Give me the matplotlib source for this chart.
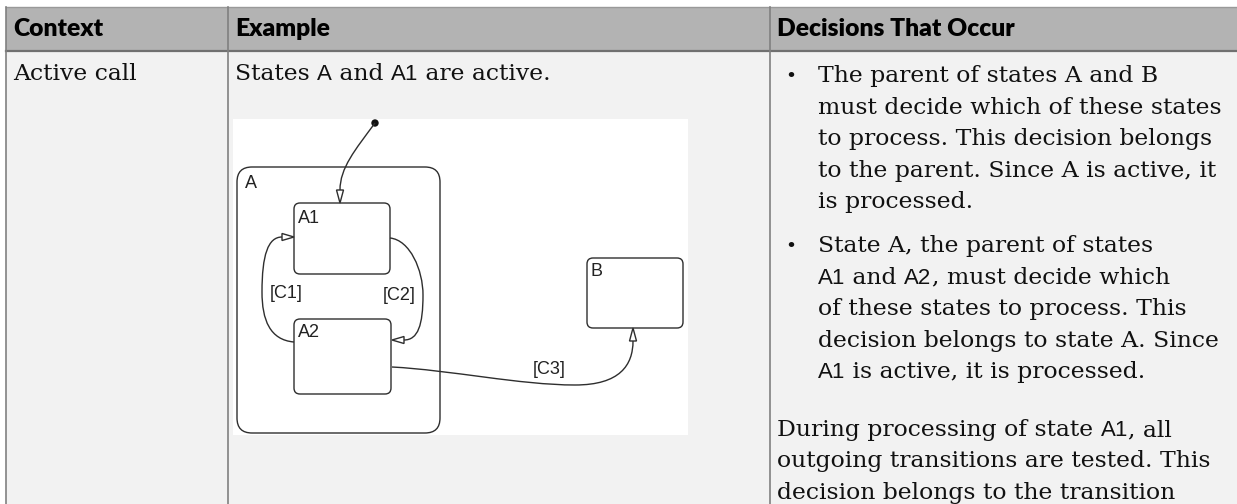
import matplotlib
matplotlib.use('Agg')
import matplotlib.pyplot as plt
from matplotlib.patches import FancyBboxPatch, Rectangle, Polygon, Circle, PathPatch
from matplotlib.path import Path

# table contents
headers = ['Context', 'Example', 'Decisions That Occur']
context_text = 'Active call'
example_runs = [('States ', 's'), ('A', 'h'), (' and ', 's'), ('A1', 'h'), (' are active.', 's')]

# 's' = serif body text, 'h' = sans (state names)
bullet_one = [
    [('The parent of states A and B', 's')],
    [('must decide which of these states', 's')],
    [('to process. This decision belongs', 's')],
    [('to the parent. Since A is active, it', 's')],
    [('is processed.', 's')],
]
bullet_two = [
    [('State A, the parent of states', 's')],
    [('A1', 'h'), (' and ', 's'), ('A2', 'h'), (', must decide which', 's')],
    [('of these states to process. This', 's')],
    [('decision belongs to state A. Since', 's')],
    [('A1', 'h'), (' is active, it is processed.', 's')],
]
paragraph = [
    [('During processing of state ', 's'), ('A1', 'h'), (', all', 's')],
    [('outgoing transitions are tested. This', 's')],
    [('decision belongs to the transition', 's')],
]

# stateflow diagram contents
state_names = ['A', 'A1', 'A2', 'B']
transition_labels = ['[C1]', '[C2]', '[C3]']

W, H = 1237, 504
SERIF = 'DejaVu Serif'
SANS = 'Liberation Sans'
HEAD = 'Lato'
INK = '#111111'
LINE = '#2e2e2e'

fig = plt.figure(figsize=(W / 100, H / 100), dpi=100)
ax = fig.add_axes([0, 0, 1, 1])
ax.set_xlim(0, W)
ax.set_ylim(H, 0)
ax.axis('off')
renderer = fig.canvas.get_renderer()


def text_w(s, **kw):
    t = ax.text(0, 0, '|' + s + '|', **kw)
    w = t.get_window_extent(renderer).width
    t.remove()
    t = ax.text(0, 0, '||', **kw)
    w -= t.get_window_extent(renderer).width
    t.remove()
    return w


body_size = 10 * 434 / text_w('outgoing transitions are tested. This', family=SERIF, fontsize=10)
head_size = 10 * 235 / text_w('Decisions That Occur', family=HEAD, weight='bold', fontsize=10)
sans_size = 16


def style(kind):
    if kind == 'h':
        return dict(family=SANS, fontsize=sans_size)
    return dict(family=SERIF, fontsize=body_size)


def draw_runs(x, y, runs):
    for s, kind in runs:
        kw = style(kind)
        ax.text(x, y, s, va='baseline', ha='left', color=INK, **kw)
        x += text_w(s, **kw)


# table background and rules
ax.add_patch(Rectangle((6, 7), W - 6, 44, facecolor='#b3b3b3', edgecolor='none'))
ax.add_patch(Rectangle((6, 51), W - 6, H - 51, facecolor='#f2f2f2', edgecolor='none'))
ax.plot([6, W], [7, 7], color='#999999', lw=1)
ax.plot([6, W], [51, 51], color='#707070', lw=1.6)
for xd in [6, 228, 770]:
    ax.plot([xd, xd], [7, H], color='#808080', lw=1.2)

head_x = [13, 235, 777]
for hx, htxt in zip(head_x, headers):
    ax.text(hx, 36, htxt, va='baseline', ha='left', family=HEAD, weight='heavy',
            fontsize=head_size, color='#000000')

draw_runs(13, 80, [(context_text, 's')])
draw_runs(235, 80, example_runs)

# decisions column
step = 31.5
y = 82
for block in [bullet_one, bullet_two]:
    ax.text(785, y, '•', va='baseline', ha='left', family=SERIF, fontsize=body_size * 0.8, color=INK)
    for runs in block:
        draw_runs(818, y, runs)
        y += step
    y += 12.5
y += 14
for runs in paragraph:
    draw_runs(777, y, runs)
    y += step

# diagram
ax.add_patch(Rectangle((233, 119), 455, 316, facecolor='white', edgecolor='none'))


def state_box(x0, y0, x1, y1, r):
    ax.add_patch(FancyBboxPatch((x0, y0), x1 - x0, y1 - y0,
                                boxstyle=f'round,pad=0,rounding_size={r}',
                                facecolor='none', edgecolor=LINE, lw=1.0))


state_box(237, 167, 440, 433, 15)
state_box(294, 203, 390, 274, 6)
state_box(294, 319, 391, 394, 6)
state_box(587, 258, 683, 328, 6)

label_pos = [(245, 188), (298, 223), (298, 337), (591, 276)]
for (lx, ly), name in zip(label_pos, state_names):
    ax.text(lx, ly, name, va='baseline', ha='left', family=SANS, fontsize=13, color='#222222')


def curve(pts):
    codes = [Path.MOVETO] + [Path.CURVE4] * (len(pts) - 1)
    ax.add_patch(PathPatch(Path(pts, codes), facecolor='none', edgecolor=LINE, lw=1.0))


def arrowhead(tip, d, length=12, width=7):
    bx, by = tip[0] - d[0] * length, tip[1] - d[1] * length
    px, py = -d[1] * width / 2, d[0] * width / 2
    ax.add_patch(Polygon([tip, (bx + px, by + py), (bx - px, by - py)], closed=True,
                         facecolor='white', edgecolor=LINE, lw=1.0, zorder=3))


# default transition
ax.add_patch(Circle((375, 123), 3, color='#111111'))
curve([(375, 123), (355, 150), (340, 168), (340, 190)])
arrowhead((340, 203), (0, 1), 13)

# C1: A2 -> A1
curve([(294, 342), (270, 340), (262, 320), (262, 292),
       (262, 255), (268, 237), (282, 237)])
arrowhead((294, 237), (1, 0))

# C2: A1 -> A2
curve([(390, 238), (410, 240), (423, 270), (423, 295),
       (423, 325), (418, 340), (404, 340)])
arrowhead((392, 340), (-1, 0))

# C3: A2 -> B
curve([(392, 367), (450, 370), (520, 385), (575, 385),
       (620, 385), (633, 365), (633, 341)])
arrowhead((633, 328), (0, -1), 13)

trans_pos = [(286, 293), (399, 295), (549, 370)]
for (tx, ty), lab in zip(trans_pos, transition_labels):
    ax.text(tx, ty, lab, va='center', ha='center', family=SANS, fontsize=13, color='#222222')

fig.savefig('out.png', dpi=100, facecolor='white')
